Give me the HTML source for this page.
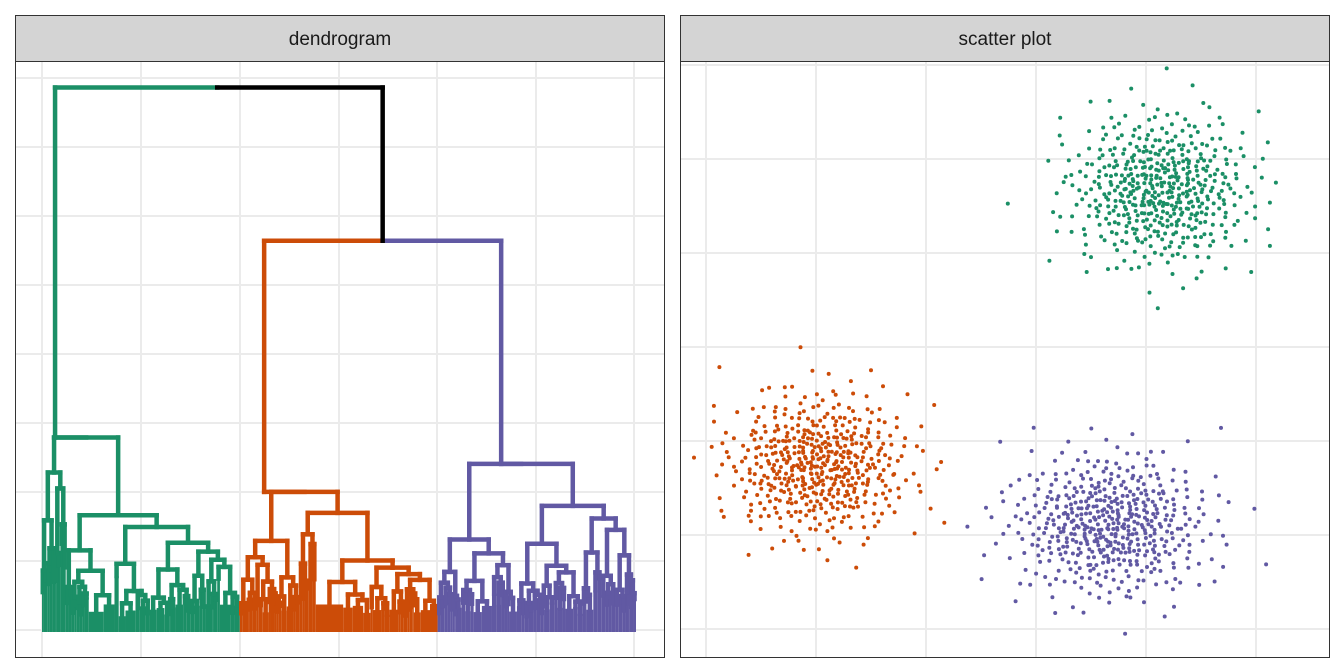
<!DOCTYPE html>
<html><head><meta charset="utf-8">
<style>
html,body{margin:0;padding:0;background:#fff;}
svg{display:block;font-family:"Liberation Sans",sans-serif;}
</style></head>
<body>
<svg id="c" width="1344" height="672" viewBox="0 0 1344 672" xmlns="http://www.w3.org/2000/svg">
<g id="left">
  <rect x="15.5" y="61.5" width="649" height="596" fill="#fff" stroke="none"/>
  <g id="lgrid"></g>
  <g id="dendro"></g>
  <rect x="15.5" y="61.5" width="649" height="596" fill="none" stroke="#333" stroke-width="1"/>
  <rect x="15.5" y="15.5" width="649" height="46" fill="#d4d4d4" stroke="#333" stroke-width="1"/>
  <text x="340" y="45" text-anchor="middle" font-size="19" fill="#1a1a1a">dendrogram</text>
</g>
<g id="right">
  <rect x="680.5" y="61.5" width="649" height="596" fill="#fff"/>
  <g id="rgrid"></g>
  <g id="pts"></g>
  <rect x="680.5" y="61.5" width="649" height="596" fill="none" stroke="#333" stroke-width="1"/>
  <rect x="680.5" y="15.5" width="649" height="46" fill="#d4d4d4" stroke="#333" stroke-width="1"/>
  <text x="1005" y="45" text-anchor="middle" font-size="19" fill="#1a1a1a">scatter plot</text>
</g>
</svg>
<script>
const NS="http://www.w3.org/2000/svg";
// cluster data
const clusterNames=["green","orange","purple"];
const clusterColors=["#1b8f66","#cc4c08","#6159a3"];
const clusterCenterX=[1160,818,1110];
const clusterCenterY=[190,465,525];
const clusterSdX=[46,46,50];
const clusterSdY=[38,36,36];
const clusterCounts=[500,500,500];
// dendrogram top-level data (heights as fraction of axis)
const topMergeHeight=0.952;
const opMergeHeight=0.684;
const clusterRootHeight=[0.34,0.245,0.294];
const clusterTrunkX=[0.022,0.374,0.773];
const rootSplitX=0.295;
const clusterLeafStart=[0,0.333,0.666];
const clusterLeafEnd=[0.333,0.666,1.0];

function mk(tag,attrs,parent){const e=document.createElementNS(NS,tag);for(const k in attrs)e.setAttribute(k,attrs[k]);parent.appendChild(e);return e;}

const lg=document.getElementById('lgrid');
[42,141,240,339,437,536,634].forEach(x=>{const l=mk('line',{x1:x,x2:x,y1:62,y2:657,stroke:'#ebebeb','stroke-width':2},lg);

});
[78,147,216,285,354,423,492,561,630].forEach(y=>{const l=mk('line',{x1:16,x2:664,y1:y,y2:y,stroke:'#ebebeb','stroke-width':2},lg);

});
const rg=document.getElementById('rgrid');
[706,816,926,1036,1146,1256].forEach(x=>{const l=mk('line',{x1:x,x2:x,y1:62,y2:657,stroke:'#ebebeb','stroke-width':2},rg);

});
[65,159,253,347,441,535,629].forEach(y=>{const l=mk('line',{x1:681,x2:1329,y1:y,y2:y,stroke:'#ebebeb','stroke-width':2},rg);

});

const X0=42,X1=636,Y0=632,YT=60;
const dx=v=>X0+v*(X1-X0);
const dy=h=>Y0-h*(Y0-YT);
const dg=document.getElementById('dendro');
function seg(x1,y1,x2,y2,col){const l=mk('line',{x1,y1,x2,y2,stroke:col,'stroke-width':4.5,'stroke-linecap':'square'},dg);

}
function link(xa,xb,h,ha,hb,col){seg(dx(xa),dy(h),dx(xb),dy(h),col);seg(dx(xa),dy(h),dx(xa),dy(ha),col);seg(dx(xb),dy(h),dx(xb),dy(hb),col);}
const splits=[0.12,0.55,0.4,0.3,0.62,0.45,0.5,0.35,0.58,0.28];
const ratios=[0.82,0.6,0.7,0.9,0.55,0.75,0.65,0.85];
let si=0,ri=0;
function tree(a,b,h,col){
  if(h<0.05||(b-a)<0.008){const r=mk('rect',{x:dx(a),y:dy(h),width:dx(b)-dx(a),height:Y0-dy(h),fill:col},dg);
    
    
    return (a+b)/2;}
  const s=splits[si++%splits.length];const m=a+(b-a)*s;
  const h1=h*ratios[ri++%ratios.length],h2=h*ratios[ri++%ratios.length];
  const c1=tree(a,m,h1,col),c2=tree(m,b,h2,col);
  link(c1,c2,h,h1,h2,col);return (c1+c2)/2;
}
clusterColors.forEach((c,i)=>{
  const cc=tree(clusterLeafStart[i],clusterLeafEnd[i],clusterRootHeight[i],c);
  const t=clusterTrunkX[i];
  if(Math.abs(cc-t)>0.002){
    // connect trunk to subtree top via a chain link
    const hh=clusterRootHeight[i];
    seg(dx(Math.min(t,cc)),dy(hh),dx(Math.max(t,cc)),dy(hh),c);
  }
});
const tx=clusterTrunkX;
const opC=(tx[1]+tx[2])/2;
seg(dx(tx[1]),dy(opMergeHeight),dx(opC),dy(opMergeHeight),clusterColors[1]);
seg(dx(opC),dy(opMergeHeight),dx(tx[2]),dy(opMergeHeight),clusterColors[2]);
seg(dx(tx[1]),dy(opMergeHeight),dx(tx[1]),dy(clusterRootHeight[1]),clusterColors[1]);
seg(dx(tx[2]),dy(opMergeHeight),dx(tx[2]),dy(clusterRootHeight[2]),clusterColors[2]);
seg(dx(tx[0]),dy(topMergeHeight),dx(rootSplitX),dy(topMergeHeight),clusterColors[0]);
seg(dx(rootSplitX),dy(topMergeHeight),dx(opC),dy(topMergeHeight),'#000');
seg(dx(opC),dy(topMergeHeight),dx(opC),dy(opMergeHeight),'#000');
seg(dx(tx[0]),dy(topMergeHeight),dx(tx[0]),dy(clusterRootHeight[0]),clusterColors[0]);

function halton(i,b){let f=1,r=0;while(i>0){f/=b;r+=f*(i%b);i=Math.floor(i/b);}return r;}
const pg=document.getElementById('pts');
clusterNames.forEach((n,k)=>{
  for(let i=1;i<=clusterCounts[k];i++){
    const u=halton(i+k*977,2)*0.998+0.002,v=halton(i+k*977,3);
    const r=Math.sqrt(-2*Math.log(u));
    const x=clusterCenterX[k]+clusterSdX[k]*r*Math.cos(2*Math.PI*v);
    const y=clusterCenterY[k]+clusterSdY[k]*r*Math.sin(2*Math.PI*v);
    if(x<684||x>1326||y<64||y>655)continue;
    const c=mk('circle',{cx:x.toFixed(1),cy:y.toFixed(1),r:2,fill:clusterColors[k]},pg);
    
    
  }
});
</script>
</body></html>
